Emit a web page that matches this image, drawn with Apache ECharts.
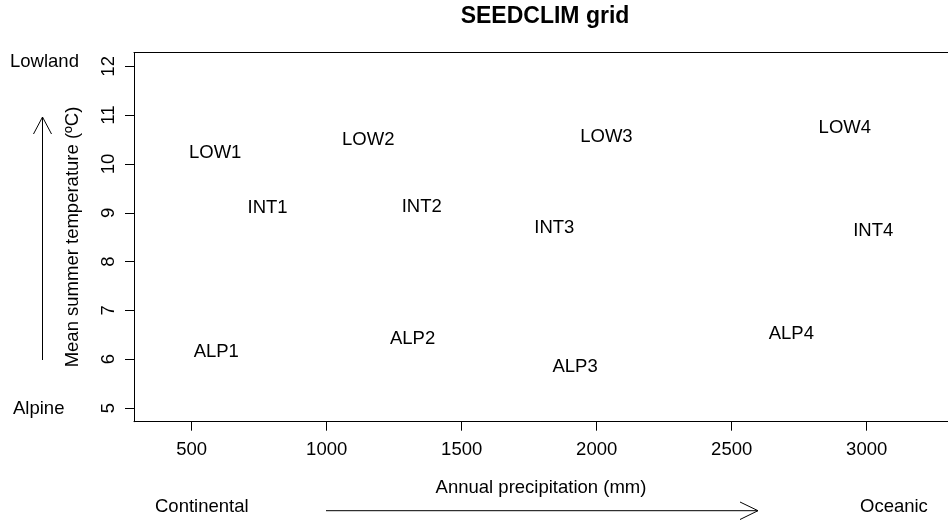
<!DOCTYPE html>
<html>
<head>
<meta charset="utf-8">
<script src="https://cdn.jsdelivr.net/npm/echarts@6/dist/echarts.min.js"></script>
<style>
html,body{margin:0;padding:0;background:#fff;}
#c{width:948px;height:521px;}
</style>
</head>
<body>
<div id="c"></div>
<script>
// Data
const siteNames = ['LOW1','LOW2','LOW3','LOW4','INT1','INT2','INT3','INT4','ALP1','ALP2','ALP3','ALP4'];
const precipitation = [587, 1154, 2036, 2919, 781, 1352, 1843, 3024, 591, 1318, 1920, 2721];
const temperature = [10.23, 10.50, 10.56, 10.73, 9.10, 9.12, 8.69, 8.62, 6.14, 6.41, 5.84, 6.52];
const xTicks = [500, 1000, 1500, 2000, 2500, 3000];
const yTicks = [5, 6, 7, 8, 9, 10, 11, 12];

const FONT = "'Liberation Sans', Arial, sans-serif";
const FS = 18.5;
const X_MIN = 286.3, X_MAX = 3301.1;

const chart = echarts.init(document.getElementById('c'), null, {renderer: 'canvas'});

const points = siteNames.map((n, i) => ({name: n, value: [precipitation[i], temperature[i]]}));

const option = {
  backgroundColor: '#fff',
  animation: false,
  grid: {
    left: 134, top: 52.7, right: 0, bottom: 99.3,
    show: false
  },
  xAxis: [{
    type: 'value', min: X_MIN, max: X_MAX, position: 'bottom',
    axisLine: {show: true, onZero: false, lineStyle: {color: '#000', width: 1}},
    splitLine: {show: false},
    axisTick: {show: true, length: 9, inside: false, customValues: xTicks, lineStyle: {color: '#000', width: 1}},
    axisLabel: {show: true, customValues: xTicks, margin: 19, fontSize: FS, fontFamily: FONT, color: '#000',
      formatter: v => String(v)}
  }, {
    type: 'value', min: X_MIN, max: X_MAX, position: 'top',
    axisLine: {show: true, onZero: false, lineStyle: {color: '#000', width: 1}},
    splitLine: {show: false}, axisTick: {show: false}, axisLabel: {show: false}
  }],
  yAxis: {
    type: 'value', min: 4.72, max: 12.28,
    axisLine: {show: true, onZero: false, lineStyle: {color: '#000', width: 1}},
    splitLine: {show: false},
    axisTick: {show: true, length: 9, inside: false, customValues: yTicks, lineStyle: {color: '#000', width: 1}},
    axisLabel: {show: true, customValues: yTicks, rotate: 90, margin: 16, fontSize: FS, fontFamily: FONT, color: '#000',
      formatter: v => String(v)}
  },
  series: [{
    type: 'scatter',
    xAxisIndex: 0,
    data: points,
    symbolSize: 0.01,
    itemStyle: {color: '#000'},
    label: {
      show: true, position: 'inside', formatter: '{b}',
      fontSize: FS, fontFamily: FONT, color: '#000', opacity: 1,
      textBorderWidth: 0,
      align: 'center', verticalAlign: 'middle'
    },
    emphasis: {disabled: true}
  }],
  graphic: [
    {type: 'text', x: 545, y: 16.5, style: {text: 'SEEDCLIM grid', font: 'bold 23px ' + FONT, fill: '#000', align: 'center', verticalAlign: 'middle'}},
    {type: 'text', x: 10, y: 61.7, style: {text: 'Lowland', font: FS + 'px ' + FONT, fill: '#000', align: 'left', verticalAlign: 'middle'}},
    {type: 'text', x: 13, y: 409, style: {text: 'Alpine', font: FS + 'px ' + FONT, fill: '#000', align: 'left', verticalAlign: 'middle'}},
    {type: 'text', x: 155, y: 507, style: {text: 'Continental', font: FS + 'px ' + FONT, fill: '#000', align: 'left', verticalAlign: 'middle'}},
    {type: 'text', x: 860, y: 507, style: {text: 'Oceanic', font: FS + 'px ' + FONT, fill: '#000', align: 'left', verticalAlign: 'middle'}},
    {type: 'text', x: 541, y: 487.5, style: {text: 'Annual precipitation (mm)', font: FS + 'px ' + FONT, fill: '#000', align: 'center', verticalAlign: 'middle'}},
    {type: 'text', x: 72.5, y: 237, rotation: Math.PI / 2, style: {text: 'Mean summer temperature (ºC)', font: FS + 'px ' + FONT, fill: '#000', align: 'center', verticalAlign: 'middle'}},
    {type: 'line', shape: {x1: 326, y1: 510.7, x2: 758, y2: 510.7}, style: {stroke: '#000', lineWidth: 1}},
    {type: 'polyline', shape: {points: [[740, 502], [758, 510.7], [740, 519.5]]}, style: {stroke: '#000', lineWidth: 1, fill: null}},
    {type: 'line', shape: {x1: 42.5, y1: 117, x2: 42.5, y2: 360}, style: {stroke: '#000', lineWidth: 1}},
    {type: 'polyline', shape: {points: [[33.5, 134], [42.5, 117], [51.5, 134]]}, style: {stroke: '#000', lineWidth: 1, fill: null}}
  ]
};
chart.setOption(option);
</script>
</body>
</html>
